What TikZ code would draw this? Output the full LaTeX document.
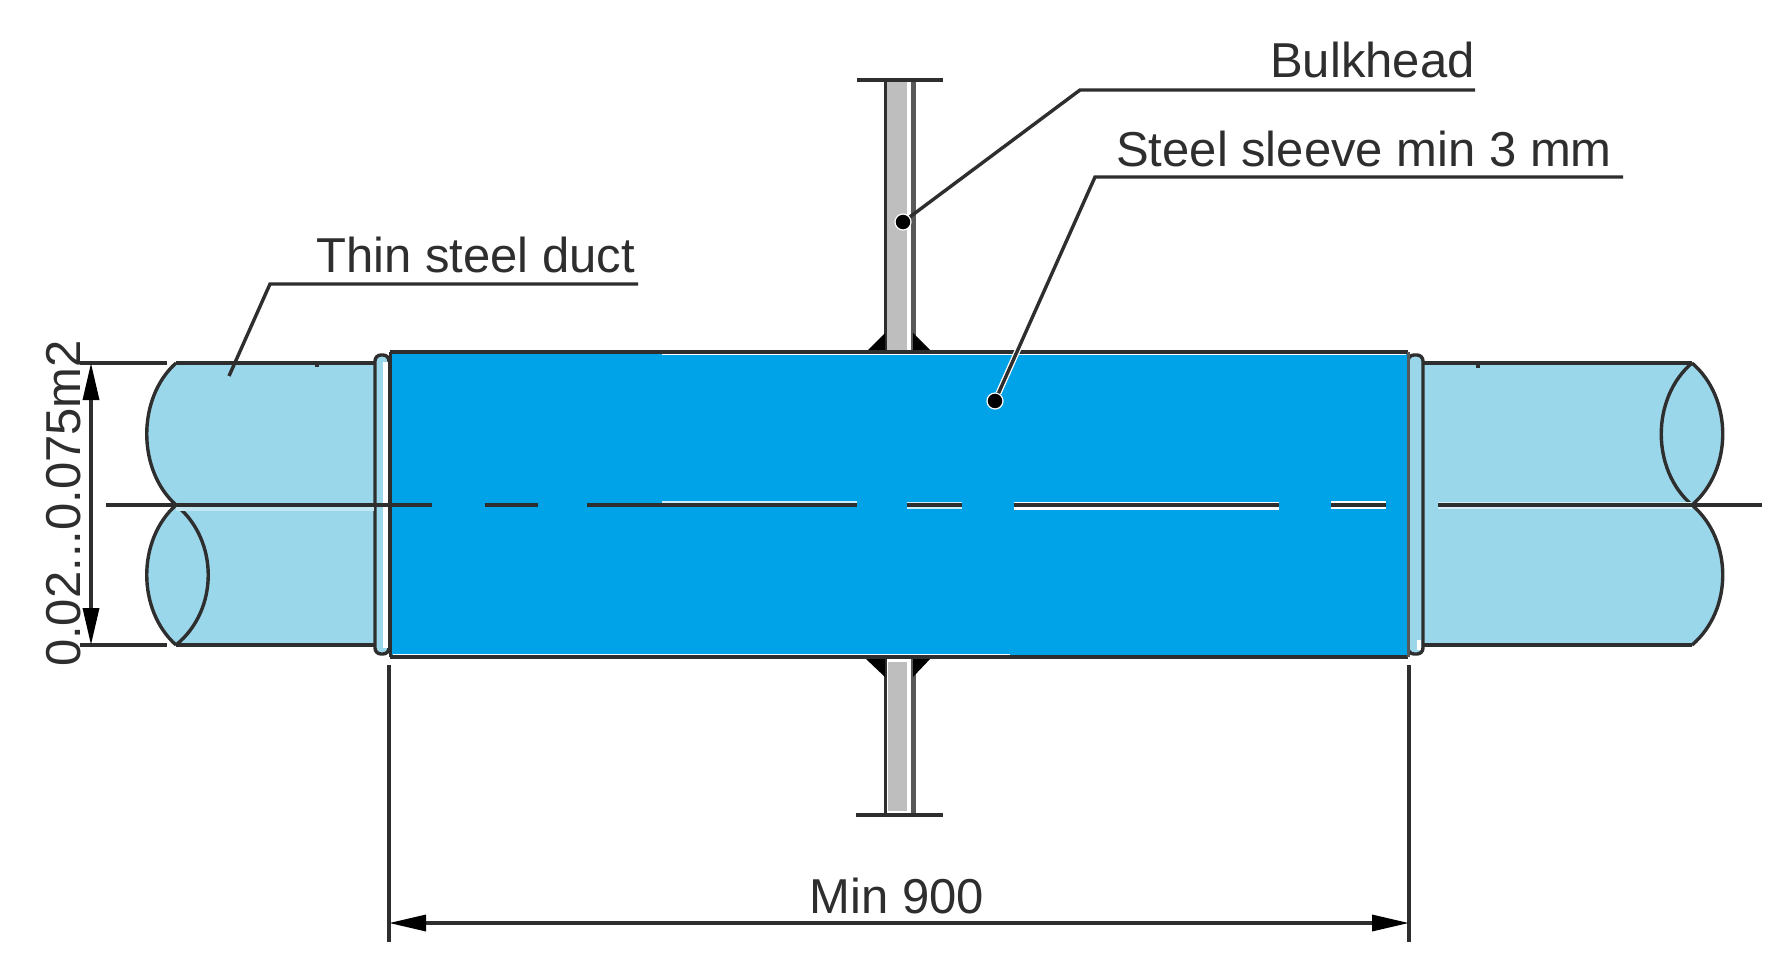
\documentclass[tikz,border=0pt]{standalone}
\usepackage{fontspec}
\setmainfont{Liberation Sans}
\usetikzlibrary{arrows.meta}
\definecolor{sleeveblue}{HTML}{00A2E8}
\definecolor{ductblue}{HTML}{9BD7EA}
\definecolor{plategrey}{HTML}{BEBEBE}
\definecolor{ink}{HTML}{2E2E2E}
\tikzset{
  ln/.style={draw=ink,line width=3.4pt},
  thin ln/.style={draw=ink,line width=3pt},
  lbl/.style={inner sep=0pt,text=ink,font=\fontsize{49}{55}\selectfont},
  lbldot/.style={circle,fill=black,draw=white,line width=1.2pt,minimum size=16pt,inner sep=0pt},
  dimv/.style={draw=ink,line width=3.4pt,{Triangle[length=37pt,width=16pt,black]}-{Triangle[length=37pt,width=16pt,black]}},
  halo/.style={draw=white,line width=8pt},
  dash ln/.style={draw=ink,line width=3.4pt}
}
\begin{document}
\begin{tikzpicture}[x=1pt,y=-1pt]
\useasboundingbox (0,0) rectangle (1789,978);
\fill[white] (0,0) rectangle (1789,978);
% left duct
\fill[ductblue] (176,363) .. controls (137,398) and (137,470) .. (176,505)
  .. controls (137,540) and (137,610) .. (176,645) -- (376,645) -- (376,363) -- cycle;
\draw[ln] (176,363) .. controls (137,398) and (137,470) .. (176,505)
  .. controls (219,540) and (219,610) .. (176,645);
\draw[ln] (176,505) .. controls (137,540) and (137,610) .. (176,645);
\draw[ln] (176,363) -- (376,363);
\draw[ln] (176,645) -- (376,645);
\draw[ln] (80,363) -- (167,363);
\draw[ln] (80,645) -- (167,645);
\draw[ln] (317,363) -- (317,367);
% right duct
\fill[ductblue] (1692,363) .. controls (1733,398) and (1733,470) .. (1692,505)
  .. controls (1733,540) and (1733,610) .. (1692,645) -- (1420,645) -- (1420,363) -- cycle;
\draw[ln] (1692,363) .. controls (1733,398) and (1733,470) .. (1692,505)
  .. controls (1733,540) and (1733,610) .. (1692,645);
\draw[ln] (1692,363) .. controls (1651,398) and (1651,470) .. (1692,505);
\draw[ln] (1420,363) -- (1692,363);
\draw[ln] (1420,645) -- (1692,645);
\draw[ln] (1478,363) -- (1478,368);
% collars
\draw[ln,fill=ductblue,rounded corners=6pt] (375,355) rectangle (389,654);
\fill[white] (383,362) rectangle (388,648);
\draw[ln,fill=ductblue,rounded corners=6pt] (1408,355) rectangle (1423,654);
\fill[white] (1417,640) rectangle (1421,650);
% bulkhead, upper
\fill[white] (885,80) rectangle (913,351);
\fill[plategrey] (887,82) rectangle (907,351);
\draw[thin ln] (885,80) -- (885,351);
\draw[draw=ink!80,line width=5pt] (913,80) -- (913,351);
\draw[ln] (857,80) -- (943,80);
\fill[black] (885,333) -- (867,351) -- (885,351) -- cycle;
\fill[black] (913,333) -- (931,351) -- (913,351) -- cycle;
% bulkhead, lower
\fill[white] (885,658) rectangle (913,815);
\fill[plategrey] (888,662) rectangle (907,811);
\draw[thin ln] (885,658) -- (885,815);
\draw[draw=ink!80,line width=5pt] (913,658) -- (913,815);
\draw[ln] (856,815) -- (943,815);
\fill[black] (885,677) -- (865,658) -- (885,658) -- cycle;
\fill[black] (913,677) -- (931,658) -- (913,658) -- cycle;
% sleeve
\fill[sleeveblue] (390,352) rectangle (1408,657);
\draw[ln] (390,352) -- (1408,352);
\draw[ln] (390,657) -- (1408,657);
\draw[thin ln] (390,352) -- (390,657);
\draw[draw=ink!80,line width=3pt] (1408,352) -- (1408,657);
\draw[draw=white,line width=1.6pt] (662,354.5) -- (1406,354.5);
\draw[draw=white,line width=1.6pt] (393,654.5) -- (1010,654.5);
% centre line
\draw[draw=white!60!ductblue,line width=7pt] (1438,505) -- (1692,505);
\draw[draw=white!40!ductblue,line width=6pt] (176,508) -- (374,508);
\draw[draw=white!80!sleeveblue,line width=6pt] (662,504) -- (857,504);
\draw[draw=white!80!sleeveblue,line width=7pt] (907,505) -- (962,505);
\draw[halo] (1014,505.5) -- (1279,505.5);
\draw[halo] (1331,505) -- (1386,505);
\draw[dash ln] (106,505) -- (432,505);
\draw[dash ln] (485,505) -- (538,505);
\draw[dash ln] (587,505) -- (857,505);
\draw[dash ln] (907,505) -- (962,505);
\draw[dash ln] (1014,505) -- (1279,505);
\draw[dash ln] (1331,505) -- (1386,505);
\draw[dash ln] (1438,505) -- (1762,505);
% dimensions
\coordinate (dimtop) at (91,363);
\coordinate (dimbot) at (91,645);
\draw[dimv] (dimtop) -- (dimbot);
\node[lbl,rotate=90,anchor=base] (dimarea) at (80,503.5) {0.02...0.075m2};
\coordinate (extla) at (389,665);
\coordinate (extlb) at (389,942);
\coordinate (extra) at (1409,665);
\coordinate (extrb) at (1409,942);
\draw[ln] (extla) -- (extlb);
\draw[ln] (extra) -- (extrb);
\coordinate (diml) at (389,923);
\coordinate (dimr) at (1409,923);
\draw[dimv] (diml) -- (dimr);
\node[lbl,anchor=base] (minlen) at (897,913) {Min 900};
% labels and leaders
\node[lbl,anchor=base west] (bulk) at (1270,77) {Bulkhead};
\node[lbl,anchor=base west] (sleeve) at (1116,166) {Steel sleeve min 3 mm};
\node[lbl,anchor=base west] (duct) at (316,272) {Thin steel duct};
\node[lbldot] (bulkdot) at (903,222) {};
\node[lbldot] (sleevedot) at (995,401) {};
\coordinate (bulkknee) at (1080,90);
\coordinate (bulkend) at (1475,90);
\coordinate (sleeveknee) at (1095,177);
\coordinate (sleeveend) at (1623,177);
\coordinate (ductknee) at (270,284);
\coordinate (ductend) at (638,284);
\coordinate (ducttip) at (229,376);
\draw[ln] (bulkdot) -- (bulkknee) -- (bulkend);
\draw[draw=white,line width=6pt] (sleevedot) -- (1020,345);
\draw[ln] (sleevedot) -- (sleeveknee) -- (sleeveend);
\draw[ln] (ducttip) -- (ductknee) -- (ductend);
\end{tikzpicture}
\end{document}
